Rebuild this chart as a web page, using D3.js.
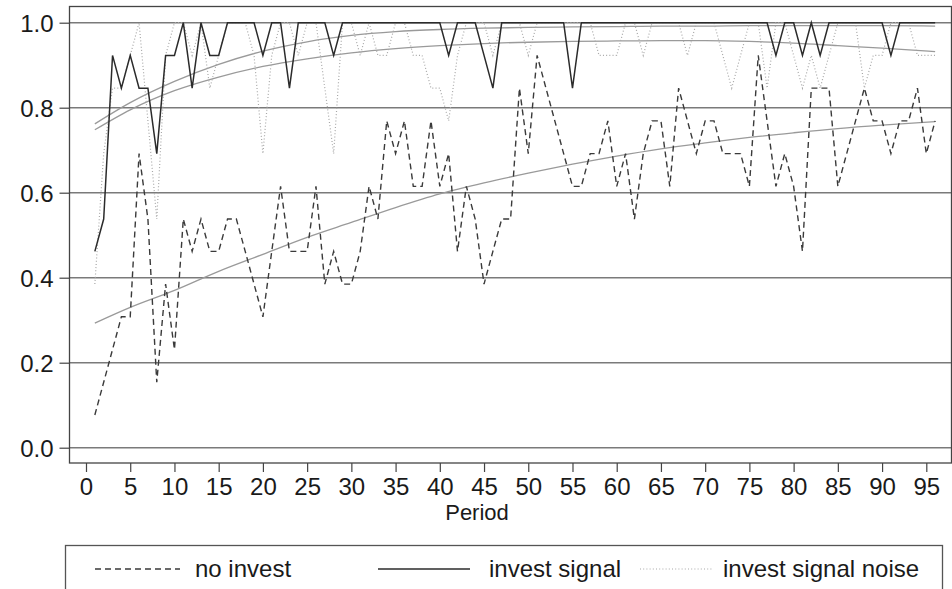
<!DOCTYPE html>
<html>
<head>
<meta charset="utf-8">
<script src="https://cdn.jsdelivr.net/npm/d3@7"></script>
<style>
    body { margin: 0; background: #fff; }
    svg { display: block; font-family: "Liberation Sans", Arial, sans-serif; }
</style>
</head>
<body>
<div id="chart-div"></div>
<script>
// periods 1..96, share of the 13 subjects in each group per period
const periods = d3.range(1, 97);

const noInvest = [0.077,0.154,0.231,0.308,0.308,0.692,0.538,0.154,0.385,0.231,
    0.538,0.462,0.538,0.462,0.462,0.538,0.538,0.462,0.385,0.308,
    0.462,0.615,0.462,0.462,0.462,0.615,0.385,0.462,0.385,0.385,
    0.462,0.615,0.538,0.769,0.692,0.769,0.615,0.615,0.769,0.615,
    0.692,0.462,0.615,0.538,0.385,0.462,0.538,0.538,0.846,0.692,
    0.923,0.846,0.769,0.692,0.615,0.615,0.692,0.692,0.769,0.615,
    0.692,0.538,0.692,0.769,0.769,0.615,0.846,0.769,0.692,0.769,
    0.769,0.692,0.692,0.692,0.615,0.923,0.769,0.615,0.692,0.615,
    0.462,0.846,0.846,0.846,0.615,0.692,0.769,0.846,0.769,0.769,
    0.692,0.769,0.769,0.846,0.692,0.769];

const investSignal = [0.462,0.538,0.923,0.846,0.923,0.846,0.846,0.692,0.923,0.923,
    1,0.846,1,0.923,0.923,1,1,1,1,0.923,
    1,1,0.846,1,1,1,1,0.923,1,1,
    1,1,1,1,1,1,1,1,1,1,
    0.923,1,1,1,0.923,0.846,1,1,1,1,
    1,1,1,1,0.846,1,1,1,1,1,
    1,1,1,1,1,1,1,1,1,1,
    1,1,1,1,1,1,1,0.923,1,1,
    0.923,1,0.923,1,1,1,1,1,1,1,
    0.923,1,1,1,1,1];

const investNoise = [0.385,0.692,0.846,0.846,0.923,1,0.769,0.538,0.923,1,
    1,0.923,1,0.846,0.923,1,1,1,0.923,0.692,
    0.923,1,1,0.923,1,1,0.846,0.692,1,1,
    0.923,1,0.923,0.923,1,1,0.923,0.923,0.846,0.846,
    0.769,0.923,1,1,1,0.923,1,1,1,0.923,
    1,1,1,1,1,1,1,0.923,0.923,0.923,
    1,1,0.923,1,1,1,1,0.923,1,1,
    1,0.923,0.846,0.923,1,1,0.846,1,1,0.923,
    0.846,0.923,0.846,0.923,1,1,1,0.846,0.923,0.923,
    1,1,1,0.923,0.923,0.923];

const fitPeriods = [1,5,10,15,20,25,30,35,40,45,50,55,60,65,70,75,80,85,90,96];
const fitNoInvest = [0.293,0.330,0.370,0.415,0.455,0.495,0.530,0.565,0.597,0.623,
    0.646,0.667,0.686,0.703,0.717,0.730,0.741,0.751,0.759,0.767];
const fitSignal = [0.762,0.812,0.862,0.902,0.933,0.955,0.970,0.979,0.984,0.987,
    0.989,0.990,0.991,0.992,0.992,0.993,0.993,0.993,0.993,0.992];
const fitNoise = [0.748,0.795,0.840,0.872,0.897,0.915,0.929,0.939,0.946,0.951,
    0.954,0.956,0.957,0.958,0.958,0.956,0.952,0.946,0.940,0.932];

const yTicks = [0, 0.2, 0.4, 0.6, 0.8, 1.0];
const xTicks = [0,5,10,15,20,25,30,35,40,45,50,55,60,65,70,75,80,85,90,95];
const legendLabels = ["no invest", "invest signal", "invest signal noise"];

class PeriodChart {
    constructor(){
        this.width = 952;
        this.height = 589;
        this.box = {left: 69.5, right: 951.5, top: 6.5, bottom: 463};

        this.xScale = d3.scaleLinear()
            .domain([0, 95])
            .range([86, 926.3]);
        this.yScale = d3.scaleLinear()
            .domain([0, 1])
            .range([447.7, 22.7]);

        this.styles = {
            noInvest: {stroke: "#3a3a3a", width: 1.4, dash: "6,4"},
            signal: {stroke: "#2b2b2b", width: 1.5, dash: null},
            noise: {stroke: "#a8a8a8", width: 1.2, dash: "1,2.2"}
        };
    }

    draw(){
        let that = this;
        let svg = d3.select("#chart-div").append("svg")
            .attr("width", this.width)
            .attr("height", this.height);
        this.svg = svg;

        // gridlines
        svg.append("g")
            .selectAll("line")
            .data(yTicks)
            .join("line")
            .attr("x1", this.box.left)
            .attr("x2", this.box.right)
            .attr("y1", d => this.yScale(d))
            .attr("y2", d => this.yScale(d))
            .attr("stroke", "#7a7a7a")
            .attr("stroke-width", 1.6);

        // plot frame
        svg.append("rect")
            .attr("x", this.box.left)
            .attr("y", this.box.top)
            .attr("width", this.box.right - this.box.left)
            .attr("height", this.box.bottom - this.box.top)
            .attr("fill", "none")
            .attr("stroke", "#444")
            .attr("stroke-width", 1.3);

        // y axis
        let yAxis = d3.axisLeft(this.yScale)
            .tickValues(yTicks)
            .tickFormat(d3.format(".1f"))
            .tickSize(10)
            .tickPadding(6);
        svg.append("g")
            .attr("transform", "translate(" + this.box.left + ",0)")
            .call(yAxis)
            .call(g => g.select(".domain").remove())
            .call(g => g.selectAll("line").attr("stroke", "#444").attr("stroke-width", 1.2))
            .call(g => g.selectAll("text")
                .attr("font-size", 24)
                .attr("fill", "#1a1a1a")
                .attr("dy", "0.36em")
                .style("font-family", "'Liberation Sans', Arial, sans-serif"));

        // x axis
        let xAxis = d3.axisBottom(this.xScale)
            .tickValues(xTicks)
            .tickSize(9)
            .tickPadding(6);
        svg.append("g")
            .attr("transform", "translate(0," + this.box.bottom + ")")
            .call(xAxis)
            .call(g => g.select(".domain").remove())
            .call(g => g.selectAll("line").attr("stroke", "#444").attr("stroke-width", 1.2))
            .call(g => g.selectAll("text")
                .attr("font-size", 24)
                .attr("fill", "#1a1a1a")
                .style("font-family", "'Liberation Sans', Arial, sans-serif"));

        // axis title sits centred on the whole graph, not the plot box
        svg.append("text")
            .attr("x", this.width / 2 + 1)
            .attr("y", 520)
            .attr("text-anchor", "middle")
            .attr("font-size", 22)
            .attr("fill", "#1a1a1a")
            .text("Period");

        // fitted curves
        let fitLine = d3.line()
            .x((d, i) => that.xScale(fitPeriods[i]))
            .y(d => that.yScale(d))
            .curve(d3.curveMonotoneX);
        svg.append("g")
            .selectAll("path")
            .data([fitNoInvest, fitSignal, fitNoise])
            .join("path")
            .attr("d", fitLine)
            .attr("fill", "none")
            .attr("stroke", "#9a9a9a")
            .attr("stroke-width", 1.3);

        // data series
        let line = d3.line()
            .x((d, i) => that.xScale(periods[i]))
            .y(d => that.yScale(d));
        let series = [
            {values: investNoise, style: this.styles.noise},
            {values: noInvest, style: this.styles.noInvest},
            {values: investSignal, style: this.styles.signal}
        ];
        svg.append("g")
            .selectAll("path")
            .data(series)
            .join("path")
            .attr("d", d => line(d.values))
            .attr("fill", "none")
            .attr("stroke", d => d.style.stroke)
            .attr("stroke-width", d => d.style.width)
            .attr("stroke-dasharray", d => d.style.dash)
            .attr("stroke-linejoin", "miter");

        this.drawLegend();
    }

    drawLegend(){
        let svg = this.svg;
        svg.append("rect")
            .attr("x", 65.5)
            .attr("y", 545.5)
            .attr("width", 877)
            .attr("height", 60)
            .attr("fill", "#fff")
            .attr("stroke", "#555")
            .attr("stroke-width", 1.3);

        let items = [
            {label: legendLabels[0], style: this.styles.noInvest, x1: 95, x2: 180, tx: 195},
            {label: legendLabels[1], style: this.styles.signal, x1: 378, x2: 470, tx: 489},
            {label: legendLabels[2], style: this.styles.noise, x1: 640, x2: 712, tx: 723}
        ];
        let g = svg.append("g")
            .selectAll("g")
            .data(items)
            .join("g");
        g.append("line")
            .attr("x1", d => d.x1)
            .attr("x2", d => d.x2)
            .attr("y1", 569)
            .attr("y2", 569)
            .attr("stroke", d => d.style.stroke)
            .attr("stroke-width", d => d.style.width)
            .attr("stroke-dasharray", d => d.style.dash);
        g.append("text")
            .attr("x", d => d.tx)
            .attr("y", 577)
            .attr("font-size", 24)
            .attr("fill", "#1a1a1a")
            .text(d => d.label);
    }
}

let chart = new PeriodChart();
chart.draw();
</script>
</body>
</html>
